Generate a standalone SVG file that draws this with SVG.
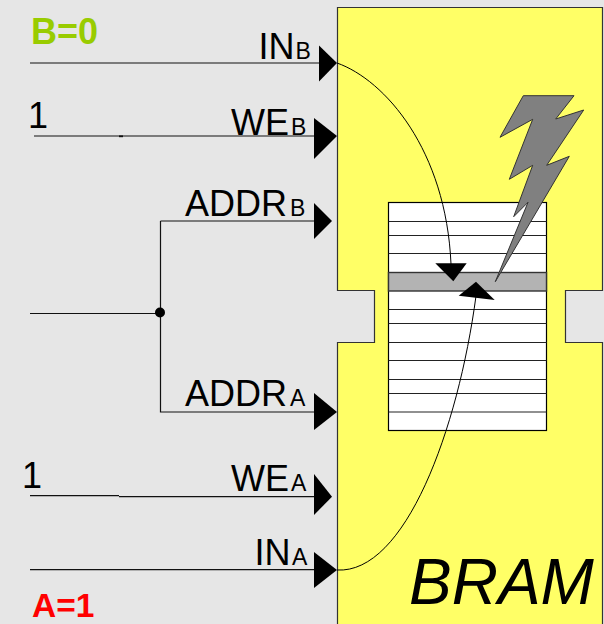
<svg xmlns="http://www.w3.org/2000/svg" width="604" height="624" viewBox="0 0 604 624">
<style>
text{font-family:"Liberation Sans",Arial,sans-serif;fill:#000}
.l{font-size:36px}
.s{font-size:23px}
.w{fill:none;stroke:#111;stroke-width:1.2}
.c{fill:none;stroke:#000;stroke-width:1}
.a{fill:#000;stroke:none}
.r{stroke:#222;stroke-width:1.200}
</style>
<rect width="604" height="624" fill="#e6e6e6"/>
<g id="bram">
<path d="M337.500 7.500H602.500V290.500H565.500V342.500H602.500V630H337.500V342.500H374.500V290.500H337.500Z" fill="#ffff66" stroke="#333" stroke-width="1.200"/>
<text x="409" y="604" font-size="64" font-style="italic">BRAM</text>
</g>
<g id="memory">
<rect x="388.500" y="202.500" width="158" height="228" fill="#fff" stroke="#000" stroke-width="1.200"/>
<rect x="388.500" y="272.500" width="158" height="18.500" fill="#b3b3b3" stroke="#333" stroke-width="1.400"/>
<path class="r" d="M388.500 221.500H546.500M388.500 235.500H546.500M388.500 253.500H546.500M388.500 309.500H546.500M388.500 323.500H546.500M388.500 342.500H546.500M388.500 360.500H546.500M388.500 379.500H546.500M388.500 393.500H546.500M388.500 412H546.500"/>
</g>
<g id="lightning">
<polygon points="523.300,95.700 574,95.700 555.700,119 583.700,110 546.700,165.300 569.300,156.300 495.300,281.700 528,202.300 513.700,216.700 532.700,165.300 509.300,179.300 532.700,119.300 500,137.300" fill="#808080" stroke="#333" stroke-width="1"/>
</g>
<g id="connectors">
<path class="w" d="M30 63H320M34 136H315M160.500 221H315M160.500 221V412H315M30 313.500H160.500M30 495.700H119M119 496.700H315M30 569.700H315"/>
<path d="M119 136.300H123" stroke="#111" stroke-width="1.800"/>
<path class="c" d="M337 63C385 80 446 150 451 264"/>
<path class="c" d="M337 570C405 574 458 430 476 296"/>
<circle class="a" cx="160" cy="312.500" r="5"/>
<polygon class="a" points="319,45.500 337,63 319,81.500"/>
<polygon class="a" points="314,118 337,136 314,159"/>
<polygon class="a" points="314,203 332,221 314,239"/>
<polygon class="a" points="314,393 337,412 314,430"/>
<polygon class="a" points="314,474 332,496.700 314,515"/>
<polygon class="a" points="314,552 337,570 314,588"/>
<polygon class="a" points="435.300,263.300 466.700,263.300 453.300,281.300"/>
<polygon class="a" points="476,281.700 458.700,295.700 494.700,300"/>
</g>
<g id="in-b"><text x="258.500" y="58.500" class="l">IN<tspan class="s" dx="1">B</tspan></text></g>
<g id="we-b"><text x="231" y="135" class="l">WE<tspan class="s" dx="2">B</tspan></text></g>
<g id="addr-b"><text x="185" y="216" class="l">ADDR<tspan class="s" dx="3">B</tspan></text></g>
<g id="addr-a"><text x="185" y="406" class="l">ADDR<tspan class="s" dx="3">A</tspan></text></g>
<g id="we-a"><text x="231" y="491" class="l">WE<tspan class="s" dx="2">A</tspan></text></g>
<g id="in-a"><text x="254.500" y="564.500" class="l">IN<tspan class="s" dx="1.500">A</tspan></text></g>
<g id="one-b"><text x="28" y="127.500" class="l">1</text></g>
<g id="one-a"><text x="22" y="488" class="l">1</text></g>
<g id="b0"><text x="31" y="43.500" font-size="36" font-weight="bold" style="fill:#99cc00">B=0</text></g>
<g id="a1"><text x="32" y="617" font-size="33.500" font-weight="bold" style="fill:#ff0000">A=1</text></g>
</svg>
